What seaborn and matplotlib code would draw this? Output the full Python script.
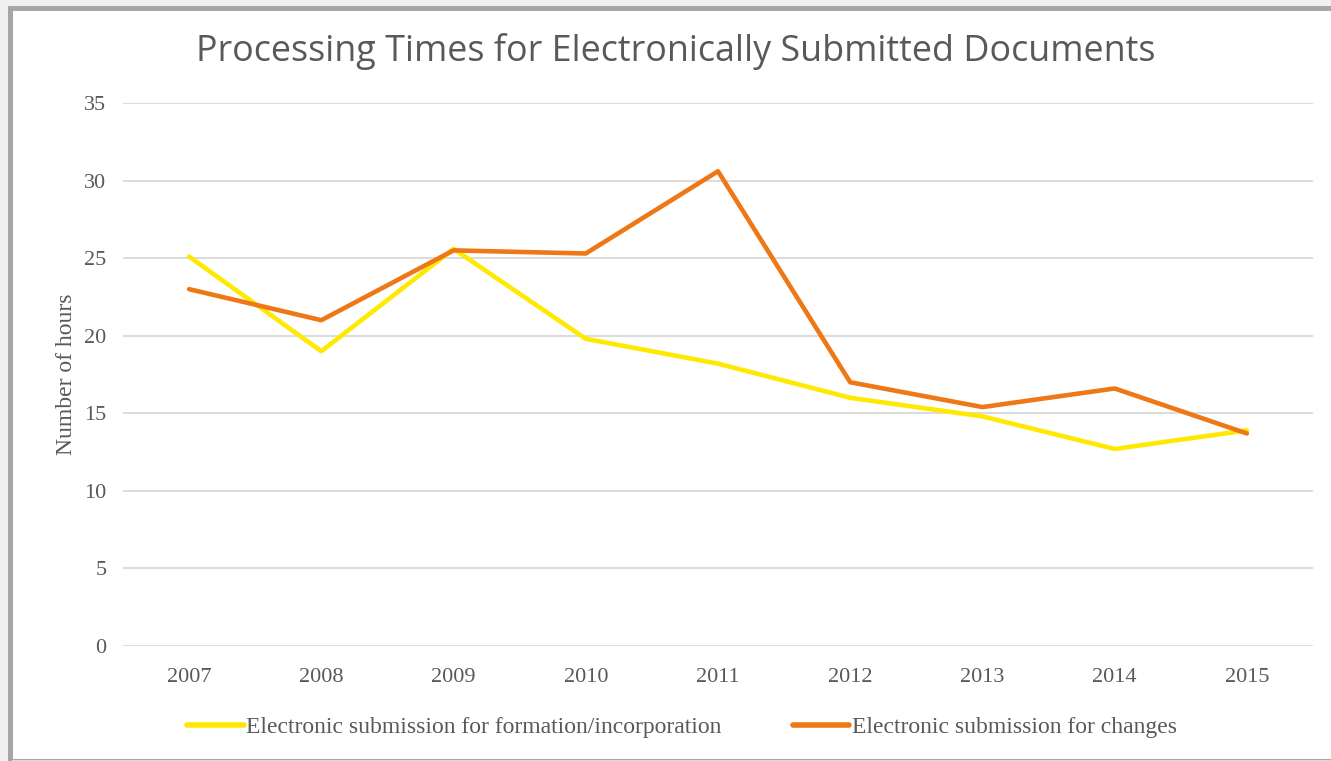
import matplotlib
matplotlib.use("Agg")
import matplotlib.pyplot as plt
from matplotlib.patches import Rectangle
from matplotlib.lines import Line2D
import seaborn as sns
import pandas as pd

years = ["2007", "2008", "2009", "2010", "2011", "2012", "2013", "2014", "2015"]
formation = [25.1, 19.0, 25.6, 19.8, 18.2, 16.0, 14.8, 12.7, 13.9]
changes = [23.0, 21.0, 25.5, 25.3, 30.6, 17.0, 15.4, 16.6, 13.7]
series_names = ["Electronic submission for formation/incorporation",
                "Electronic submission for changes"]
colors = ["#FFE900", "#EE7716"]
yticks = [0, 5, 10, 15, 20, 25, 30, 35]

df = pd.DataFrame({
    "Year": years * 2,
    "Hours": formation + changes,
    "Series": [series_names[0]] * len(years) + [series_names[1]] * len(years),
})

sns.set_theme(style="white")
plt.rcParams["font.family"] = ["Liberation Serif", "DejaVu Serif"]

W, H = 1331, 761
fig = plt.figure(figsize=(W / 100, H / 100), dpi=100)
fig.patch.set_facecolor("#f0f0f0")
# chart frame
fig.patches.append(Rectangle((9.5 / W, 0), 1.2, (H - 7.5) / H, transform=fig.transFigure,
                             facecolor="white", edgecolor="#a6a6a6", linewidth=3.6, zorder=-3))
fig.patches.append(Rectangle((12 / W, 0), 1.2, 1.5 / H, transform=fig.transFigure,
                             facecolor="#d9d9d9", edgecolor="none", zorder=-2))

ax = fig.add_axes([123 / W, 1 - 646 / H, (1313 - 123) / W, (646 - 103) / H])
ax.set_zorder(2)
ax.set_facecolor("none")
sns.lineplot(data=df, x="Year", y="Hours", hue="Series", palette=colors,
             linewidth=3.3, ax=ax, legend=False, sort=False)
for ln in ax.lines:
    ln.set_solid_capstyle("round")
    ln.set_solid_joinstyle("round")

ax.set_ylim(0, 35)
ax.set_xlim(-0.5, len(years) - 0.5)
ax.set_yticks(yticks)
ax.set_yticklabels([str(t) for t in yticks])
ax.yaxis.grid(True, color="#d9d9d9", linewidth=1.3)
ax.xaxis.grid(False)
for s in ax.spines.values():
    s.set_visible(False)
ax.tick_params(axis="both", length=0, labelsize=16, labelcolor="#595959")
ax.tick_params(axis="y", pad=12)
ax.tick_params(axis="x", pad=16)
ax.set_xlabel("")
ax.set_ylabel("Number of hours", fontsize=17, color="#595959", labelpad=5)
ax.set_axisbelow(True)

fig.text(676 / W, 1 - 51 / H, "Processing Times for Electronically Submitted Documents",
         ha="center", va="center", fontsize=25.8, color="#595959", family="Open Sans")

handles = [Line2D([0], [0], color=c, linewidth=4, solid_capstyle="round") for c in colors]
fig.legend(handles, series_names, loc="center", bbox_to_anchor=(682 / W, 1 - 727 / H),
           ncol=2, frameon=False, fontsize=17, handlelength=2.4, handletextpad=0.1,
           columnspacing=3.0, labelcolor="#595959")

fig.savefig("out.png", dpi=100, facecolor=fig.get_facecolor())
